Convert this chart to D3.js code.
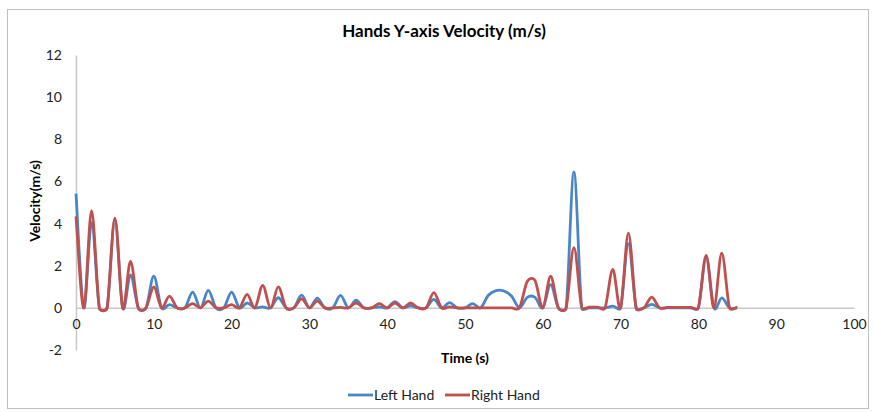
<!DOCTYPE html>
<html>
<head>
<meta charset="utf-8">
<script src="https://cdn.jsdelivr.net/npm/d3@7"></script>
<style>
  body { margin: 0; background: #fff; }
  text { font-family: Lato, "Open Sans", sans-serif; }
</style>
</head>
<body>
<script>
var width = 873;
var height = 412;

// one sample per second, 0..85 s
var times = d3.range(0, 86);

var leftHand = [
  5.42, 0, 4.05, 0, 0, 4.2, 0, 1.57, 0, 0,
  1.5, 0, 0.15, 0, 0, 0.75, 0, 0.83, 0, 0,
  0.75, 0, 0.23, 0, 0.05, 0, 0.48, 0, 0, 0.6,
  0, 0.46, 0, 0, 0.59, 0, 0.36, 0, 0, 0.05,
  0, 0.3, 0, 0.1, 0, 0, 0.4, 0, 0.25, 0,
  0, 0.2, 0, 0.6, 0.82, 0.8, 0.55, 0, 0.5, 0.5,
  0, 1.1, 0, 0, 6.45, 0, 0, 0, 0, 0.08,
  0, 3.05, 0, 0, 0.17, 0, 0, 0, 0, 0,
  0, 2.4, 0, 0.47, 0, 0
];

var rightHand = [
  4.34, 0, 4.6, 0, 0, 4.26, 0, 2.2, 0, 0,
  0.99, 0, 0.56, 0, 0, 0.2, 0, 0.32, 0, 0,
  0.15, 0, 0.64, 0, 1.07, 0, 1.0, 0, 0, 0.43,
  0, 0.32, 0, 0, 0.02, 0, 0.23, 0, 0, 0.2,
  0, 0.23, 0, 0.23, 0, 0, 0.72, 0, 0.05, 0,
  0, 0, 0, 0, 0, 0, 0, 0, 1.25, 1.3,
  0, 1.5, 0, 0, 2.86, 0.03, 0.03, 0.03, 0, 1.83,
  0, 3.55, 0, 0, 0.51, 0, 0.02, 0.02, 0.02, 0.02,
  0.02, 2.49, 0, 2.6, 0, 0.03
];

var seriesNames = ["Left Hand", "Right Hand"];
var seriesColors = ["#4a86c6", "#c0504d"];
var xTicks = [0, 10, 20, 30, 40, 50, 60, 70, 80, 90, 100];
var yTicks = [-2, 0, 2, 4, 6, 8, 10, 12];

var x = d3.scaleLinear().domain([0, 100]).range([76, 854]);
var y = d3.scaleLinear().domain([-2, 12]).range([350, 55]);

var svg = d3.select("body").append("svg")
  .attr("width", width)
  .attr("height", height);

// chart border
svg.append("rect")
  .attr("x", 7.5).attr("y", 9.5)
  .attr("width", 861).attr("height", 399)
  .attr("fill", "none")
  .attr("stroke", "#bfbfbf");

svg.append("text")
  .attr("x", 444).attr("y", 37)
  .attr("text-anchor", "middle")
  .style("font-weight", "bold")
  .style("font-size", "17px")
  .text("Hands Y-axis Velocity (m/s)");

// y axis
var yAxis = svg.append("g")
  .attr("transform", "translate(76,0)")
  .call(d3.axisLeft(y).tickValues(yTicks).tickFormat(function (d) { return String(d); })
    .tickSize(0).tickPadding(14).tickSizeOuter(0));
yAxis.select(".domain").attr("stroke", "#c8c8c8").attr("stroke-width", 1.5);
yAxis.selectAll("text").style("font-size", "14px").attr("fill", "#222")
  .style("font-family", "Lato, 'Open Sans', sans-serif");

// x axis along zero
var xAxis = svg.append("g")
  .attr("transform", "translate(0," + y(0) + ")")
  .call(d3.axisBottom(x).tickValues(xTicks).tickSize(0).tickPadding(11).tickSizeOuter(0));
xAxis.select(".domain").attr("stroke", "#c8c8c8").attr("stroke-width", 1.5);
xAxis.selectAll("text").style("font-size", "14px").attr("fill", "#222")
  .style("font-family", "Lato, 'Open Sans', sans-serif");

svg.append("text")
  .attr("transform", "translate(40,201) rotate(-90)")
  .attr("text-anchor", "middle")
  .style("font-weight", "bold")
  .style("font-size", "14px")
  .text("Velocity(m/s)");

svg.append("text")
  .attr("x", 465).attr("y", 363)
  .attr("text-anchor", "middle")
  .style("font-weight", "bold")
  .style("font-size", "14px")
  .text("Time (s)");

// spreadsheet-style smoothing: bezier handles at 1/6 of the neighbour chord,
// clamped to half of the segment so that short segments barely overshoot
function smoothPath(values) {
  var pts = values.map(function (v, i) { return [x(times[i]), y(v)]; });
  var p = d3.path();
  p.moveTo(pts[0][0], pts[0][1]);
  function dist(a, b) { return Math.hypot(b[0] - a[0], b[1] - a[1]); }
  for (var i = 0; i < pts.length - 1; i++) {
    var p0 = pts[Math.max(0, i - 1)], p1 = pts[i], p2 = pts[i + 1], p3 = pts[Math.min(pts.length - 1, i + 2)];
    var d12 = dist(p1, p2), d02 = dist(p0, p2), d13 = dist(p1, p3);
    var f1 = d02 / 6 < d12 / 2 ? 1 / 6 : (d12 / 2) / d02;
    var f2 = d13 / 6 < d12 / 2 ? 1 / 6 : (d12 / 2) / d13;
    p.bezierCurveTo(
      p1[0] + (p2[0] - p0[0]) * f1, p1[1] + (p2[1] - p0[1]) * f1,
      p2[0] - (p3[0] - p1[0]) * f2, p2[1] - (p3[1] - p1[1]) * f2,
      p2[0], p2[1]);
  }
  return p.toString();
}

[leftHand, rightHand].forEach(function (s, i) {
  svg.append("path")
    .attr("d", smoothPath(s))
    .attr("fill", "none")
    .attr("stroke", seriesColors[i])
    .attr("stroke-width", 2.8)
    .attr("stroke-linejoin", "round");
});

// legend
var legendX = [348, 445];
seriesNames.forEach(function (name, i) {
  var g = svg.append("g").attr("transform", "translate(" + legendX[i] + ",395)");
  g.append("line")
    .attr("x1", 0).attr("x2", 25)
    .attr("stroke", seriesColors[i])
    .attr("stroke-width", 2.8);
  g.append("text")
    .attr("x", 26).attr("y", 5)
    .style("font-size", "14px")
    .attr("fill", "#222")
    .text(name);
});
</script>
</body>
</html>
